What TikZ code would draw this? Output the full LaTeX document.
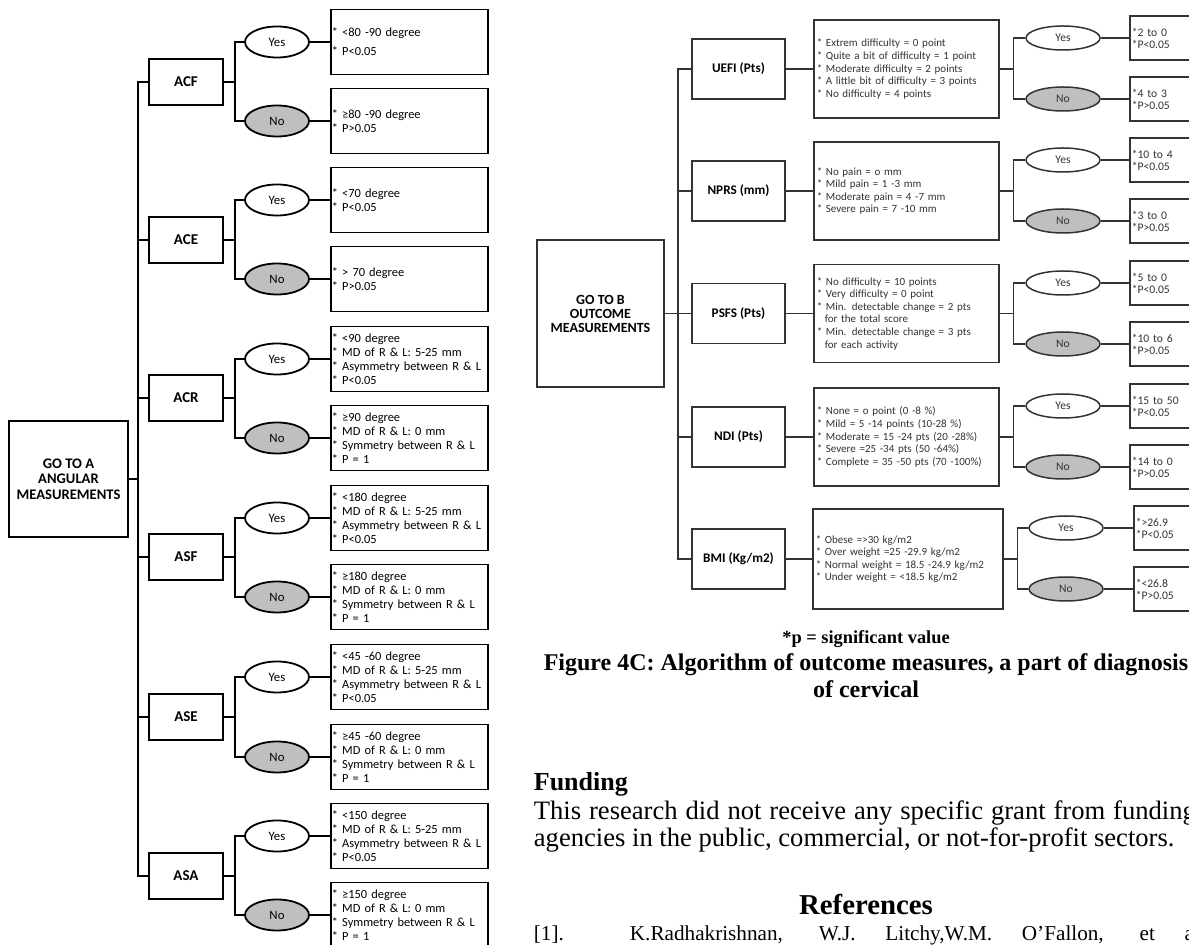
\documentclass[tikz,border=0pt]{standalone}
\usepackage{fontspec}
\setmainfont{Carlito}
\newfontfamily\timesfont{Liberation Serif}
\usetikzlibrary{shapes.geometric}
\begin{document}
\begin{tikzpicture}
% Page cut-out: chart A (angular) and chart B (outcome), 1 unit = 1 px
\def\pxsz{0.5pt}
\def\starsp{4pt}
\providecommand{\chartLineColor}{black}
\providecommand{\chartGrayLine}{black!80}
\providecommand{\chartNoFill}{black!25}
\providecommand{\chartLineWidth}{0.9pt}
\providecommand{\chartThinWidth}{0.75pt}
\begin{scope}[x=\pxsz, y=-\pxsz, line join=miter, line width=\chartLineWidth,
    angroot/.style={draw=\chartLineColor, minimum width=59.5pt, minimum height=58pt, align=center,
      font=\bfseries\fontsize{7.3pt}{7.8pt}\selectfont},
    angbox/.style={draw=\chartLineColor, minimum width=37pt, minimum height=23pt,
      font=\bfseries\fontsize{7.5pt}{8pt}\selectfont},
    angyes/.style={ellipse, draw=\chartLineColor, minimum width=32pt, minimum height=15.5pt,
      inner sep=0pt, font=\fontsize{6.4pt}{7pt}\selectfont},
    angno/.style={angyes, fill=\chartNoFill},
    angres/.style={draw=\chartLineColor, anchor=west, text width=77.5pt, inner xsep=0.5pt,
      inner ysep=0pt, minimum height=32.5pt, align=left, font=\fontsize{6.2pt}{7pt}\selectfont},
    outroot/.style={draw=\chartGrayLine, line width=\chartThinWidth, minimum width=63.5pt,
      minimum height=73.5pt, align=center, font=\bfseries\fontsize{7pt}{7pt}\selectfont},
    outbox/.style={draw=\chartGrayLine, line width=\chartThinWidth, minimum width=46.5pt,
      minimum height=30pt, font=\bfseries\fontsize{6.6pt}{7pt}\selectfont},
    outdesc/.style={draw=\chartGrayLine, line width=\chartThinWidth, anchor=west, text width=89.5pt,
      inner xsep=1.5pt, inner ysep=0pt, minimum height=49pt, align=left, text=black!80,
      font=\fontsize{5.5pt}{6.3pt}\selectfont},
    outyes/.style={ellipse, draw=\chartGrayLine, line width=\chartThinWidth, minimum width=37pt,
      minimum height=12pt, inner sep=0pt, text=black!80, font=\fontsize{5.8pt}{6pt}\selectfont},
    outno/.style={outyes, fill=\chartNoFill},
    outres/.style={draw=\chartGrayLine, line width=\chartThinWidth, anchor=west, text width=35.5pt,
      inner xsep=1pt, inner ysep=0pt, minimum height=22pt, align=left, text=black!80,
      font=\fontsize{5.8pt}{6pt}\selectfont},
    pagetext/.style={inner sep=0pt, font=\timesfont\fontsize{13.3pt}{11.5pt}\selectfont}
  ]
  % Page frame
  \useasboundingbox (0,0) rectangle (1189,945);
  \fill[white] (0,0) rectangle (1189,945);
  \clip (0,0) rectangle (1189,945);

  % Chart A: root and measures
  \node[angroot] (rootA) at (68.5,479) {GO TO A\\ANGULAR\\MEASUREMENTS};
  \coordinate (trunkA) at (138,479);
  \node[angbox] (acf) at (186,82) {ACF};
  \node[angbox] (ace) at (186,240) {ACE};
  \node[angbox] (acr) at (186,398) {ACR};
  \node[angbox] (asf) at (186,557) {ASF};
  \node[angbox] (ase) at (186,717) {ASE};
  \node[angbox] (asa) at (186,876) {ASA};
  % Chart A: yes / no
  \node[angyes] (acfY) at (277,42) {Yes};
  \node[angno] (acfN) at (277,121) {No};
  \node[angyes] (aceY) at (277,200) {Yes};
  \node[angno] (aceN) at (277,279) {No};
  \node[angyes] (acrY) at (277,359) {Yes};
  \node[angno] (acrN) at (277,438) {No};
  \node[angyes] (asfY) at (277,518) {Yes};
  \node[angno] (asfN) at (277,597) {No};
  \node[angyes] (aseY) at (277,677) {Yes};
  \node[angno] (aseN) at (277,757) {No};
  \node[angyes] (asaY) at (277,836) {Yes};
  \node[angno] (asaN) at (277,915) {No};
  % Chart A: results
  \node[angres] (acfYr) at (330,42) {* <80 -90 degree\\[2.5pt]{}* P<0.05};
  \node[angres] (acfNr) at (330,121) {* ≥80 -90 degree\\{}* P>0.05};
  \node[angres] (aceYr) at (330,200) {* <70 degree\\{}* P<0.05};
  \node[angres] (aceNr) at (330,279) {* > 70 degree\\{}* P>0.05};
  \node[angres] (acrYr) at (330,359) {* <90 degree\\{}* MD of R \& L: 5-25 mm\\{}* Asymmetry between R \& L\\{}* P<0.05};
  \node[angres] (acrNr) at (330,438) {* ≥90 degree\\{}* MD of R \& L: 0 mm\\{}* Symmetry between R \& L\\{}* P = 1};
  \node[angres] (asfYr) at (330,518) {* <180 degree\\{}* MD of R \& L: 5-25 mm\\{}* Asymmetry between R \& L\\{}* P<0.05};
  \node[angres] (asfNr) at (330,597) {* ≥180 degree\\{}* MD of R \& L: 0 mm\\{}* Symmetry between R \& L\\{}* P = 1};
  \node[angres] (aseYr) at (330,677) {* <45 -60 degree\\{}* MD of R \& L: 5-25 mm\\{}* Asymmetry between R \& L\\{}* P<0.05};
  \node[angres] (aseNr) at (330,757) {* ≥45 -60 degree\\{}* MD of R \& L: 0 mm\\{}* Symmetry between R \& L\\{}* P = 1};
  \node[angres] (asaYr) at (330,836) {* <150 degree\\{}* MD of R \& L: 5-25 mm\\{}* Asymmetry between R \& L\\{}* P<0.05};
  \node[angres] (asaNr) at (330,915) {* ≥150 degree\\{}* MD of R \& L: 0 mm\\{}* Symmetry between R \& L\\{}* P = 1};
  % Chart A: connectors
  \begin{scope}[draw=\chartLineColor]
    \draw (rootA.east) -- (trunkA) |- (acf.west);
    \draw (rootA.east) -- (trunkA) |- (ace.west);
    \draw (rootA.east) -- (trunkA) |- (acr.west);
    \draw (rootA.east) -- (trunkA) |- (asf.west);
    \draw (rootA.east) -- (trunkA) |- (ase.west);
    \draw (rootA.east) -- (trunkA) |- (asa.west);
    \draw (acf.east) -- ++(11,0) |- (acfY.west);
    \draw (acf.east) -- ++(11,0) |- (acfN.west);
    \draw (ace.east) -- ++(11,0) |- (aceY.west);
    \draw (ace.east) -- ++(11,0) |- (aceN.west);
    \draw (acr.east) -- ++(11,0) |- (acrY.west);
    \draw (acr.east) -- ++(11,0) |- (acrN.west);
    \draw (asf.east) -- ++(11,0) |- (asfY.west);
    \draw (asf.east) -- ++(11,0) |- (asfN.west);
    \draw (ase.east) -- ++(11,0) |- (aseY.west);
    \draw (ase.east) -- ++(11,0) |- (aseN.west);
    \draw (asa.east) -- ++(11,0) |- (asaY.west);
    \draw (asa.east) -- ++(11,0) |- (asaN.west);
    \draw (acfY.east) -- (acfYr.west);
    \draw (acfN.east) -- (acfNr.west);
    \draw (aceY.east) -- (aceYr.west);
    \draw (aceN.east) -- (aceNr.west);
    \draw (acrY.east) -- (acrYr.west);
    \draw (acrN.east) -- (acrNr.west);
    \draw (asfY.east) -- (asfYr.west);
    \draw (asfN.east) -- (asfNr.west);
    \draw (aseY.east) -- (aseYr.west);
    \draw (aseN.east) -- (aseNr.west);
    \draw (asaY.east) -- (asaYr.west);
    \draw (asaN.east) -- (asaNr.west);
  \end{scope}

  % Chart B: root and measures
  \node[outroot] (rootB) at (600.5,313.5) {GO TO B\\OUTCOME\\MEASUREMENTS};
  \coordinate (trunkB) at (678,313.5);
  \node[outbox] (uefi) at (738.5,69) {UEFI (Pts)};
  \node[outbox] (nprs) at (738.5,191) {NPRS (mm)};
  \node[outbox] (psfs) at (738.5,313.5) {PSFS (Pts)};
  \node[outbox] (ndi) at (738.5,437) {NDI (Pts)};
  \node[outbox] (bmi) at (738.5,559) {BMI (Kg/m2)};
  % Chart B: scales
  \node[outdesc] (uefiD) at (813,69) {* Extrem difficulty = 0 point\\{}* Quite a bit of difficulty = 1 point\\{}* Moderate difficulty = 2 points\\{}* A little bit of difficulty = 3 points\\{}* No difficulty = 4 points};
  \node[outdesc] (nprsD) at (813,191) {* No pain = o mm\\{}* Mild pain = 1 -3 mm\\{}* Moderate pain = 4 -7 mm\\{}* Severe pain = 7 -10 mm};
  \node[outdesc] (psfsD) at (813,313.5) {* No difficulty = 10 points\\{}* Very difficulty = 0 point\\{}* Min. detectable change = 2 pts\\\hspace*{\starsp}for the total score\\{}* Min. detectable change = 3 pts\\\hspace*{\starsp}for each activity};
  \node[outdesc] (ndiD) at (813,437) {* None = o point (0 -8 \%)\\{}* Mild = 5 -14 points (10-28 \%)\\{}* Moderate = 15 -24 pts (20 -28\%)\\{}* Severe =25 -34 pts (50 -64\%)\\{}* Complete = 35 -50 pts (70 -100\%)};
  \node[outdesc, text width=92pt, minimum height=50pt] (bmiD) at (812,559) {* Obese =>30 kg/m2\\{}* Over weight =25 -29.9 kg/m2\\{}* Normal weight = 18.5 -24.9 kg/m2\\{}* Under weight = <18.5 kg/m2};
  % Chart B: yes / no
  \node[outyes] (uefiY) at (1063,38) {Yes};
  \node[outno] (uefiN) at (1063,99) {No};
  \node[outyes] (nprsY) at (1063,160) {Yes};
  \node[outno] (nprsN) at (1063,221) {No};
  \node[outyes] (psfsY) at (1063,283) {Yes};
  \node[outno] (psfsN) at (1063,344) {No};
  \node[outyes] (ndiY) at (1063,406) {Yes};
  \node[outno] (ndiN) at (1063,467) {No};
  \node[outyes] (bmiY) at (1066,528) {Yes};
  \node[outno] (bmiN) at (1066,589) {No};
  % Chart B: results
  \node[outres] (uefiYr) at (1129,38) {*2 to 0\\{}*P<0.05};
  \node[outres] (uefiNr) at (1129,99) {*4 to 3\\{}*P>0.05};
  \node[outres] (nprsYr) at (1129,160) {*10 to 4\\{}*P<0.05};
  \node[outres] (nprsNr) at (1129,221) {*3 to 0\\{}*P>0.05};
  \node[outres] (psfsYr) at (1129,283) {*5 to 0\\{}*P<0.05};
  \node[outres] (psfsNr) at (1129,344) {*10 to 6\\{}*P>0.05};
  \node[outres] (ndiYr) at (1129,406) {*15 to 50\\{}*P<0.05};
  \node[outres] (ndiNr) at (1129,467) {*14 to 0\\{}*P>0.05};
  \node[outres] (bmiYr) at (1133,528) {*>26.9\\{}*P<0.05};
  \node[outres] (bmiNr) at (1133,589) {*<26.8\\{}*P>0.05};
  % Chart B: connectors
  \begin{scope}[draw=\chartGrayLine, line width=\chartThinWidth]
    \draw (rootB.east) -- (trunkB) |- (uefi.west);
    \draw (rootB.east) -- (trunkB) |- (nprs.west);
    \draw (rootB.east) -- (trunkB) |- (psfs.west);
    \draw (rootB.east) -- (trunkB) |- (ndi.west);
    \draw (rootB.east) -- (trunkB) |- (bmi.west);
    \draw (uefi.east) -- (uefiD.west);
    \draw (nprs.east) -- (nprsD.west);
    \draw (psfs.east) -- (psfsD.west);
    \draw (ndi.east) -- (ndiD.west);
    \draw (bmi.east) -- (bmiD.west);
    \draw (uefiD.east) -- ++(14,0) |- (uefiY.west);
    \draw (uefiD.east) -- ++(14,0) |- (uefiN.west);
    \draw (nprsD.east) -- ++(14,0) |- (nprsY.west);
    \draw (nprsD.east) -- ++(14,0) |- (nprsN.west);
    \draw (psfsD.east) -- ++(14,0) |- (psfsY.west);
    \draw (psfsD.east) -- ++(14,0) |- (psfsN.west);
    \draw (ndiD.east) -- ++(14,0) |- (ndiY.west);
    \draw (ndiD.east) -- ++(14,0) |- (ndiN.west);
    \draw (bmiD.east) -- ++(14,0) |- (bmiY.west);
    \draw (bmiD.east) -- ++(14,0) |- (bmiN.west);
    \draw (uefiY.east) -- (uefiYr.west);
    \draw (uefiN.east) -- (uefiNr.west);
    \draw (nprsY.east) -- (nprsYr.west);
    \draw (nprsN.east) -- (nprsNr.west);
    \draw (psfsY.east) -- (psfsYr.west);
    \draw (psfsN.east) -- (psfsNr.west);
    \draw (ndiY.east) -- (ndiYr.west);
    \draw (ndiN.east) -- (ndiNr.west);
    \draw (bmiY.east) -- (bmiYr.west);
    \draw (bmiN.east) -- (bmiNr.west);
  \end{scope}

  % Page text below chart B
  \node[pagetext, anchor=base, font=\timesfont\bfseries\fontsize{9.2pt}{10pt}\selectfont] (sigNote) at (866,644) {*p = significant value};
  \node[pagetext, anchor=base, font=\timesfont\bfseries\fontsize{12pt}{13.5pt}\selectfont] (figCap) at (866,671) {Figure 4C: Algorithm of outcome measures, a part of diagnosis};
  \node[pagetext, anchor=base, font=\timesfont\bfseries\fontsize{12pt}{13.5pt}\selectfont] (figCapB) at (866,698) {of cervical};
  \node[pagetext, anchor=base west, font=\timesfont\bfseries\fontsize{13pt}{13pt}\selectfont] (fundHead) at (533,791) {Funding};
  \node[pagetext, anchor=north west, text width=331pt, align=justify] (fundBody) at (533,800) {This research did not receive any specific grant from funding agencies in the public, commercial, or not-for-profit sectors.};
  \node[pagetext, anchor=base, font=\timesfont\bfseries\fontsize{14.4pt}{15pt}\selectfont] (refHead) at (866,914) {References};
  \node[pagetext, anchor=base west, font=\timesfont\fontsize{10.6pt}{12pt}\selectfont] (refNum) at (533,940) {[1].};
  \node[pagetext, anchor=base west, font=\timesfont\fontsize{10.6pt}{12pt}\selectfont] (refLine) at (629,940) {\makebox[285pt][s]{K.Radhakrishnan, W.J. Litchy,W.M. O’Fallon, et al}};
\end{scope}
\end{tikzpicture}
\end{document}
